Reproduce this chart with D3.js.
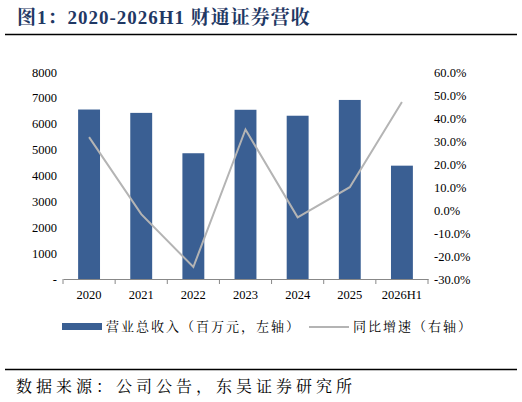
<!DOCTYPE html><html><head><meta charset="utf-8"><script src="https://cdn.jsdelivr.net/npm/d3@7"></script>
<style>body{margin:0;background:#fff}text{font-family:"Liberation Serif","Noto Serif CJK SC","Noto Sans CJK SC",serif}</style></head><body>
<svg id="c" width="522" height="402"></svg>
<script>
const categories=["2020","2021","2022","2023","2024","2025","2026H1"];
const revenue=[6550,6420,4860,6540,6310,6920,4380];
const growth=[31.7,-1.8,-24.8,35.0,-3.2,9.9,47.0];
const leftTicks=[0,1000,2000,3000,4000,5000,6000,7000,8000];
const rightTicks=[-30,-20,-10,0,10,20,30,40,50,60];
const svg=d3.select("#c");
const L=63,R=428,T=72,B=279;
svg.append("text").attr("x",17).attr("y",24).attr("font-size",19).attr("font-weight","bold").attr("letter-spacing",1).attr("fill","#1f3864").text("图1：2020-2026H1 财通证券营收");
svg.append("line").attr("x1",5).attr("x2",517).attr("y1",34.5).attr("y2",34.5).attr("stroke","#000").attr("stroke-width",1.5);
svg.append("line").attr("x1",5).attr("x2",517).attr("y1",369.5).attr("y2",369.5).attr("stroke","#000").attr("stroke-width",1.5);
svg.append("text").attr("x",16).attr("y",392).attr("font-size",16).attr("letter-spacing",4).attr("fill","#000").text("数据来源：公司公告，东吴证券研究所");
const x=d3.scaleBand().domain(categories).range([L,R]).paddingInner(0.58).paddingOuter(0.29);
const xp=d3.scalePoint().domain(categories).range([L,R]).padding(0.5);
const y=d3.scaleLinear().domain([0,8000]).range([B,T]);
const y2=d3.scaleLinear().domain([-30,60]).range([B,T]);
svg.selectAll(".bar").data(revenue).join("rect").attr("x",(d,i)=>x(categories[i])).attr("width",x.bandwidth()).attr("y",d=>y(d)).attr("height",d=>B-y(d)).attr("fill","#3a5f93");
svg.append("path").datum(growth).attr("fill","none").attr("stroke","#b4b4b4").attr("stroke-width",2).attr("d",d3.line().x((d,i)=>xp(categories[i])).y(d=>y2(d)));
const ax=svg.append("g").attr("transform",`translate(0,${B})`).call(d3.axisBottom(x).tickSize(0).tickFormat(d=>d));
ax.select(".domain").attr("stroke","#888");
ax.selectAll("text").attr("font-size",12.5).attr("fill","#000").attr("dy","1.35em");
const tk=svg.append("g");
d3.range(8).forEach(i=>{const xx=L+i*(R-L)/7;tk.append("line").attr("x1",xx).attr("x2",xx).attr("y1",B).attr("y2",B+5).attr("stroke","#888");});
const ay=svg.append("g").attr("transform",`translate(${L},0)`).call(d3.axisLeft(y).tickValues(leftTicks).tickSize(0).tickPadding(6).tickFormat(d=>d===0?"-":d));
ay.select(".domain").remove();ay.selectAll("text").attr("font-size",12.5).attr("fill","#000");
const ay2=svg.append("g").attr("transform",`translate(${R},0)`).call(d3.axisRight(y2).tickValues(rightTicks).tickSize(0).tickPadding(6).tickFormat(d=>d.toFixed(1)+"%"));
ay2.select(".domain").remove();ay2.selectAll("text").attr("font-size",12.5).attr("fill","#000");
svg.append("rect").attr("x",62).attr("y",323).attr("width",40).attr("height",7).attr("fill","#3a5f93");
svg.append("text").attr("x",106).attr("y",331).attr("font-size",13).attr("letter-spacing",2).attr("fill","#000").text("营业总收入（百万元，左轴）");
svg.append("line").attr("x1",309).attr("x2",349).attr("y1",327).attr("y2",327).attr("stroke","#b4b4b4").attr("stroke-width",2);
svg.append("text").attr("x",353).attr("y",331).attr("font-size",13).attr("letter-spacing",2).attr("fill","#000").text("同比增速（右轴）");
</script></body></html>
